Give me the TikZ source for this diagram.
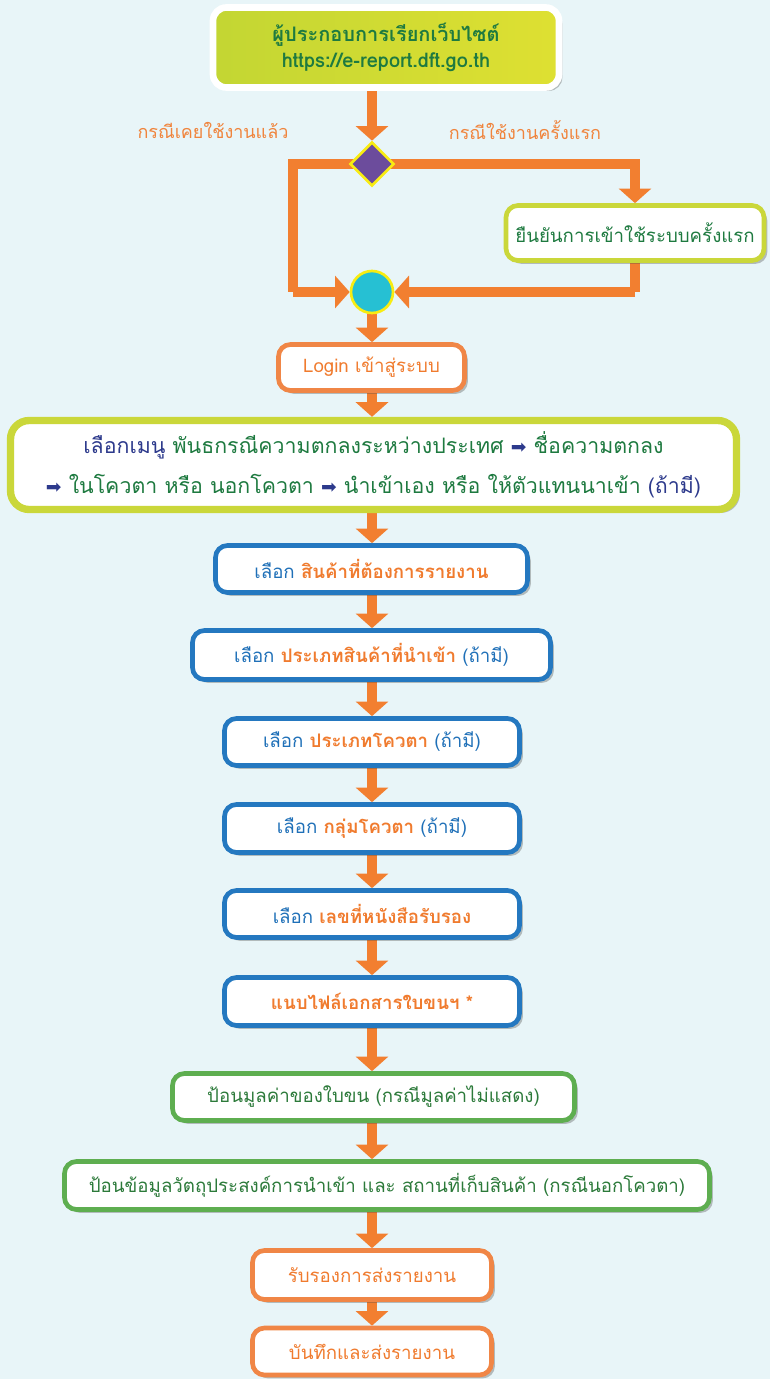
\documentclass[tikz,border=0pt]{standalone}
\usepackage{fontspec}
\setmainfont[Script=Thai]{Loma}
\newfontfamily\symfont{DejaVu Sans}
\usetikzlibrary{arrows.meta,shapes.geometric,shadows}
\definecolor{bgc}{HTML}{E8F5F8}
\definecolor{arrO}{HTML}{F27F30}
\definecolor{lblO}{HTML}{F0843C}
\definecolor{tgreen}{HTML}{1E7A40}
\definecolor{ygb}{HTML}{CAD73A}
\definecolor{bblue}{HTML}{2478C0}
\definecolor{tblue}{HTML}{1F70B8}
\definecolor{tor}{HTML}{F07B2E}
\definecolor{gb}{HTML}{5EAE50}
\definecolor{tg2}{HTML}{2C7A3A}
\definecolor{ob}{HTML}{F08646}
\definecolor{dblue}{HTML}{2D3A8C}
\definecolor{purp}{HTML}{6C4C9C}
\definecolor{cyanc}{HTML}{26C0D3}
\definecolor{yel}{HTML}{F8EC12}
\definecolor{topA}{HTML}{C3D633}
\definecolor{topB}{HTML}{DEE032}
\pgfdeclarelayer{back}
\pgfdeclarelayer{mid}
\pgfsetlayers{back,mid,main}
\tikzset{
  shad/.style={drop shadow={shadow xshift=2.5pt,shadow yshift=-2.5pt,opacity=.35,fill=black!70}},
  box/.style={shape=rectangle,rounded corners=9pt,fill=white,line width=3.5pt,inner sep=0pt,align=center,shad,font=\fontsize{14}{17}\selectfont},
  bluebox/.style={box,draw=bblue},
  greenbox/.style={box,draw=gb,text=tg2},
  orangebox/.style={box,draw=ob,text=tor},
  ygbox/.style={box,draw=ygb,text=tgreen},
  flow/.style={draw=arrO,line width=7.5pt,line join=miter,-{Triangle[width=24pt,length=11pt]}},
  flowline/.style={draw=arrO,line width=7.5pt,line join=miter},
  lbl/.style={text=lblO,font=\fontsize{13.5}{16}\selectfont}
}
\newcommand{\sel}{\textcolor{tblue}{เลือก}}
\newcommand{\hl}[1]{\textcolor{tor}{\bfseries #1}}
\newcommand{\opt}{\textcolor{tblue}{(ถ้ามี)}}
\newcommand{\ar}{\textcolor{dblue}{\symfont\fontsize{14}{17}\selectfont ➡}}
\begin{document}
\begin{tikzpicture}[x=0.75pt,y=-0.75pt]
\begin{pgfonlayer}{back}
\fill[bgc] (0,0) rectangle (770,1379);
\end{pgfonlayer}
\useasboundingbox (0,0) rectangle (770,1379);

\node[shape=rectangle,rounded corners=10pt,draw=white,line width=5pt,left color=topA,right color=topB,shad,
  minimum width=346*0.75pt,minimum height=80*0.75pt,inner sep=0pt,align=center,text=tgreen,
  font=\fontsize{15}{20}\selectfont\bfseries] (top) at (386,47.5)
  {ผู้ประกอบการเรียกเว็บไซต์\\https://e-report.dft.go.th};

\node[lbl] (lold) at (213,130) {กรณีเคยใช้งานแล้ว};
\node[lbl] (lnew) at (525,130) {กรณีใช้งานครั้งแรก};

\node[diamond,fill=purp,draw=yel,line width=2pt,minimum width=33pt,minimum height=33pt,inner sep=0pt] (dia) at (372,164) {};
\node[ygbox,minimum width=258*0.75pt,minimum height=55*0.75pt] (conf) at (635,233) {ยืนยันการเข้าใช้ระบบครั้งแรก};
\node[circle,fill=cyanc,draw=yel,line width=2pt,minimum size=42*0.75pt,inner sep=0pt] (circ) at (372,292) {};

\node[orangebox,minimum width=186*0.75pt,minimum height=46*0.75pt] (login) at (371.5,367.5) {Login เข้าสู่ระบบ};

\node[box,draw=ygb,line width=5.5pt,rounded corners=14pt,minimum width=726*0.75pt,minimum height=89*0.75pt,
  font=\fontsize{16}{30}\selectfont,text=tgreen] (menu) at (373.5,465)
  {\textcolor{dblue}{เลือกเมนู} พันธกรณีความตกลงระหว่างประเทศ \ar{} ชื่อความตกลง\\
   \ar{} ในโควตา หรือ นอกโควตา \ar{} นำเข้าเอง หรือ ให้ตัวแทนนาเข้า \textcolor{dblue}{(ถ้ามี)}};

\node[bluebox,minimum width=312*0.75pt,minimum height=47*0.75pt] (s1) at (371.5,569) {\sel{} \hl{สินค้าที่ต้องการรายงาน}};
\node[bluebox,minimum width=358*0.75pt,minimum height=49*0.75pt] (s2) at (371.5,655) {\sel{} \hl{ประเภทสินค้าที่นำเข้า} \opt};
\node[bluebox,minimum width=295*0.75pt,minimum height=47*0.75pt] (s3) at (372,742) {\sel{} \hl{ประเภทโควตา} \opt};
\node[bluebox,minimum width=295*0.75pt,minimum height=48*0.75pt] (s4) at (372,828.5) {\sel{} \hl{กลุ่มโควตา} \opt};
\node[bluebox,minimum width=295*0.75pt,minimum height=47*0.75pt] (s5) at (372,914) {\sel{} \hl{เลขที่หนังสือรับรอง}};
\node[bluebox,minimum width=295*0.75pt,minimum height=48*0.75pt] (s6) at (372,1001.5) {\hl{แนบไฟล์เอกสารใบขนฯ *}};

\node[greenbox,minimum width=402*0.75pt,minimum height=47*0.75pt] (g1) at (373.5,1097) {ป้อนมูลค่าของใบขน (กรณีมูลค่าไม่แสดง)};
\node[greenbox,minimum width=645*0.75pt,minimum height=48*0.75pt] (g2) at (387,1185.5) {ป้อนข้อมูลวัตถุประสงค์การนำเข้า และ สถานที่เก็บสินค้า (กรณีนอกโควตา)};

\node[orangebox,minimum width=239*0.75pt,minimum height=49*0.75pt] (o1) at (372,1275) {รับรองการส่งรายงาน};
\node[orangebox,minimum width=239*0.75pt,minimum height=47*0.75pt] (o2) at (372,1351.5) {บันทึกและส่งรายงาน};

\coordinate (L) at (293,164);
\coordinate (LB) at (293,292);
\coordinate (R) at (635,164);
\coordinate (RB) at (635,292);
\coordinate (topout) at (372,90);

\begin{pgfonlayer}{mid}
\draw[flow] (topout) -- (dia.north);
\draw[flowline] (dia.center) -- (L) -- (LB);
\draw[flow] (LB) -- (circ.west);
\draw[flow] (dia.center) -- (R) -- (conf.north);
\draw[flowline] (conf.south) -- (RB);
\draw[flow] (RB) -- (circ.east);
\draw[flow] (circ.south) -- (circ.south |- login.north);
\draw[flow] (circ.south |- login.south) -- (circ.south |- menu.north);
\draw[flow] (circ.south |- menu.south) -- (circ.south |- s1.north);
\draw[flow] (s3.south |- s1.south) -- (s3.south |- s2.north);
\draw[flow] (s3.south |- s2.south) -- (s3.north);
\draw[flow] (s3.south) -- (s4.north);
\draw[flow] (s4.south) -- (s5.north);
\draw[flow] (s5.south) -- (s6.north);
\draw[flow] (s6.south) -- (s6.south |- g1.north);
\draw[flow] (s6.south |- g1.south) -- (s6.south |- g2.north);
\draw[flow] (s6.south |- g2.south) -- (o1.north);
\draw[flow] (o1.south) -- (o2.north);
\end{pgfonlayer}
\end{tikzpicture}
\end{document}
